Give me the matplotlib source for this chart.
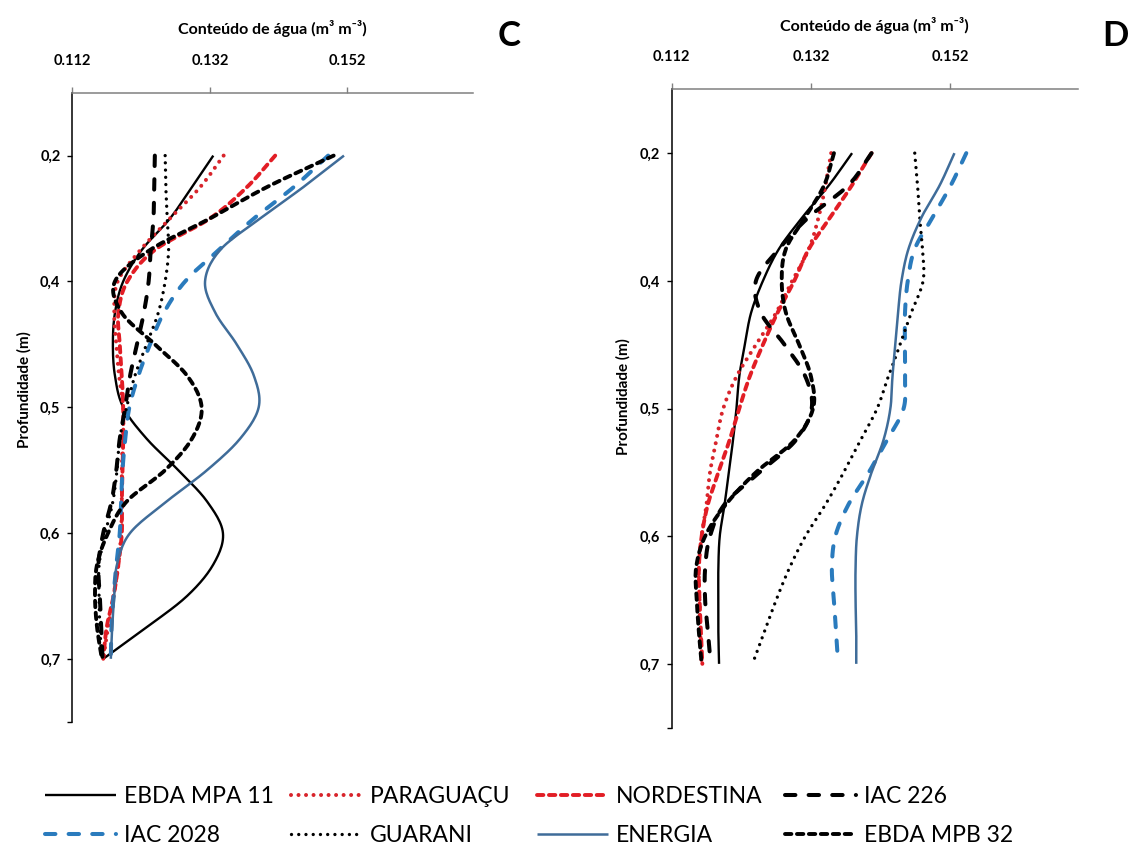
import numpy as np
import matplotlib
matplotlib.use("Agg")
import matplotlib.pyplot as plt

plt.rcParams['font.family'] = ['Lato', 'DejaVu Sans']
plt.rcParams['lines.scale_dashes'] = False

# ---------------- data ----------------
depth_labels = ['0,2', '0,4', '0,5', '0,6', '0,7']
# positions (in depth-label index units) at which the curves were read
read_levels = [0.0, 0.25, 0.5, 0.75, 1.0, 1.25, 1.5, 1.75, 2.0,
               2.25, 2.5, 2.75, 3.0, 3.25, 3.5, 3.75, 4.0]

series_names = ['EBDA MPA 11', 'PARAGUAÇU', 'NORDESTINA', 'IAC 226',
                'IAC 2028', 'GUARANI', 'ENERGIA', 'EBDA MPB 32']

x_ticks = [0.112, 0.132, 0.152]
x_tick_labels = ['0.112', '0.132', '0.152']

# Panel C
c_ebda_mpa11 = [0.1325, 0.1294, 0.1262, 0.1221, 0.1194, 0.1182, 0.1179, 0.1182, 0.1194,
                0.1228, 0.1274, 0.1316, 0.1339, 0.1325, 0.1287, 0.1228, 0.1165]
c_paraguacu = [0.1340, 0.1306, 0.1262, 0.1219, 0.1186, 0.1181, 0.1184, 0.1188, 0.1194,
               0.1193, 0.1192, 0.1192, 0.1191, 0.1187, 0.1180, 0.1172, 0.1165]
c_nordestina = [0.1415, 0.1374, 0.1320, 0.1240, 0.1200, 0.1187, 0.1189, 0.1192, 0.1194,
                0.1194, 0.1193, 0.1192, 0.1192, 0.1187, 0.1180, 0.1170, 0.1165]
c_iac226 = [0.1240, 0.1239, 0.1238, 0.1234, 0.1231, 0.1224, 0.1214, 0.1204, 0.1197,
            0.1189, 0.1184, 0.1177, 0.1165, 0.1158, 0.1160, 0.1162, 0.1164]
c_iac2028 = [0.1492, 0.1442, 0.1384, 0.1333, 0.1284, 0.1253, 0.1233, 0.1216, 0.1203,
             0.1197, 0.1193, 0.1191, 0.1189, 0.1184, 0.1180, 0.1177, 0.1176]
c_guarani = [0.1255, 0.1256, 0.1258, 0.1260, 0.1255, 0.1245, 0.1228, 0.1211, 0.1199,
             0.1189, 0.1185, 0.1179, 0.1168, 0.1159, 0.1159, 0.1160, 0.1163]
c_energia = [0.1515, 0.1456, 0.1393, 0.1335, 0.1313, 0.1328, 0.1359, 0.1384, 0.1391,
             0.1364, 0.1316, 0.1257, 0.1204, 0.1185, 0.1181, 0.1178, 0.1176]
c_ebda_mpb32 = [0.1500, 0.1403, 0.1320, 0.1233, 0.1182, 0.1192, 0.1240, 0.1287, 0.1308,
                0.1294, 0.1255, 0.1199, 0.1172, 0.1156, 0.1153, 0.1156, 0.1163]

# Panel D
d_ebda_mpa11 = [0.1379, 0.1346, 0.1308, 0.1274, 0.1251, 0.1234, 0.1225, 0.1217, 0.1213,
                0.1208, 0.1202, 0.1196, 0.1189, 0.1187, 0.1187, 0.1187, 0.1188]
d_paraguacu = [0.1349, 0.1341, 0.1331, 0.1317, 0.1293, 0.1270, 0.1241, 0.1213, 0.1194,
               0.1184, 0.1175, 0.1170, 0.1163, 0.1159, 0.1160, 0.1161, 0.1163]
d_nordestina = [0.1407, 0.1379, 0.1348, 0.1317, 0.1296, 0.1272, 0.1251, 0.1232, 0.1217,
                0.1203, 0.1187, 0.1172, 0.1163, 0.1159, 0.1160, 0.1162, 0.1164]
d_iac226 = [0.1407, 0.1374, 0.1317, 0.1274, 0.1241, 0.1248, 0.1282, 0.1312, 0.1321,
            0.1298, 0.1246, 0.1196, 0.1175, 0.1168, 0.1168, 0.1172, 0.1176]
d_iac2028 = [0.1543, 0.1521, 0.1495, 0.1469, 0.1459, 0.1455, 0.1455, 0.1455, 0.1453,
             0.1429, 0.1403, 0.1374, 0.1355, 0.1350, 0.1353, 0.1356, 0.1359]
d_guarani = [0.1469, 0.1473, 0.1476, 0.1480, 0.1481, 0.1464, 0.1448, 0.1431, 0.1415,
             0.1391, 0.1367, 0.1341, 0.1312, 0.1289, 0.1270, 0.1253, 0.1236]
d_energia = [0.1526, 0.1505, 0.1479, 0.1460, 0.1450, 0.1445, 0.1441, 0.1437, 0.1434,
             0.1424, 0.1407, 0.1393, 0.1386, 0.1384, 0.1384, 0.1385, 0.1385]
d_ebda_mpb32 = [0.1353, 0.1339, 0.1312, 0.1284, 0.1278, 0.1284, 0.1303, 0.1320, 0.1323,
                0.1296, 0.1241, 0.1198, 0.1168, 0.1155, 0.1156, 0.1159, 0.1163]

panel_c = [c_ebda_mpa11, c_paraguacu, c_nordestina, c_iac226,
           c_iac2028, c_guarani, c_energia, c_ebda_mpb32]
panel_d = [d_ebda_mpa11, d_paraguacu, d_nordestina, d_iac226,
           d_iac2028, d_guarani, d_energia, d_ebda_mpb32]

# ---------------- styles ----------------
RED = '#e21d25'
BLUE = '#2a7bbd'
STEEL = '#3f6c99'
styles = [
    dict(color='black', lw=1.7, ls='-'),
    dict(color='#d8242b', lw=2.9, dashes=(0.01, 5.4), dash_capstyle='round'),
    dict(color=RED, lw=2.8, dashes=(4.6, 4.0), dash_capstyle='round'),
    dict(color='black', lw=2.9, dashes=(7.5, 9.5), dash_capstyle='round'),
    dict(color=BLUE, lw=2.9, dashes=(7.5, 9.5), dash_capstyle='round'),
    dict(color='black', lw=2.4, dashes=(0.01, 5.2), dash_capstyle='round'),
    dict(color=STEEL, lw=1.8, ls='-'),
    dict(color='black', lw=2.8, dashes=(4.6, 4.0), dash_capstyle='round'),
]


def smooth(xv, yv, n=14):
    """Catmull-Rom rendering of a curve through the read points (smoothed line)."""
    P = np.column_stack([np.asarray(xv, float), np.asarray(yv, float)])
    E = np.vstack([2 * P[0] - P[1], P, 2 * P[-1] - P[-2]])
    t = np.linspace(0, 1, n, endpoint=False)[:, None]
    out = []
    for i in range(1, len(E) - 2):
        p0, p1, p2, p3 = E[i - 1], E[i], E[i + 1], E[i + 2]
        seg = 0.5 * (2 * p1 + (-p0 + p2) * t + (2 * p0 - 5 * p1 + 4 * p2 - p3) * t ** 2
                     + (-p0 + 3 * p1 - 3 * p2 + p3) * t ** 3)
        out.append(seg)
    out.append(P[-1:])
    S = np.vstack(out)
    return S[:, 0], S[:, 1]


W, H = 1131, 855
fig = plt.figure(figsize=(W / 100, H / 100), dpi=100)
axC = fig.add_axes([72.3 / W, 1 - 721.7 / H, (473.3 - 72.3) / W, (721.7 - 92.7) / H])
axD = fig.add_axes([671.7 / W, 1 - 727.7 / H, (1077.7 - 671.7) / W, (727.7 - 89.3) / H])

handles = []
for ax, panel in ((axC, panel_c), (axD, panel_d)):
    for k, (name, vals) in enumerate(zip(series_names, panel)):
        xs, ys = smooth(vals, read_levels)
        ln, = ax.plot(xs, ys, label=name, solid_capstyle='butt', **styles[k])
        if ax is axC:
            handles.append(ln)

    ax.set_xlim(0.112, 0.1703)
    ax.set_ylim(4.5, -0.5)
    ax.xaxis.tick_top()
    ax.set_xticks(x_ticks)
    ax.set_xticklabels(x_tick_labels, fontsize=10.5, fontweight='bold')
    ax.set_yticks([0, 1, 2, 3, 4, 4.5])
    ax.set_yticklabels(depth_labels + [''], fontsize=10.5, fontweight='bold')
    ax.tick_params(axis='x', direction='out', length=4, width=1.0, color='#808080', pad=14)
    ax.tick_params(axis='y', direction='out', length=3.5, width=1.0, color='black', pad=5)
    ax.spines['right'].set_visible(False)
    ax.spines['bottom'].set_visible(False)
    ax.spines['top'].set_color('#808080')
    ax.spines['top'].set_linewidth(1.1)
    ax.spines['left'].set_color('black')
    ax.spines['left'].set_linewidth(1.1)
    ax.set_facecolor('white')

title = 'Conteúdo de água (m³ m⁻³)'
fig.text(272.7 / W, 1 - 28.5 / H, title, ha='center', va='center',
         fontsize=11.5, fontweight='bold')
fig.text(874 / W, 1 - 25 / H, title, ha='center', va='center',
         fontsize=11.5, fontweight='bold')
fig.text(509 / W, 1 - 36 / H, 'C', ha='center', va='center', fontsize=25, fontweight='bold')
fig.text(1115 / W, 1 - 36 / H, 'D', ha='center', va='center', fontsize=25, fontweight='bold')
fig.text(24 / W, 1 - 390 / H, 'Profundidade (m)', rotation=90, ha='center', va='center',
         fontsize=11, fontweight='bold')
fig.text(623 / W, 1 - 397 / H, 'Profundidade (m)', rotation=90, ha='center', va='center',
         fontsize=11, fontweight='bold')

# legend: four columns, two rows
col_x = [45, 291, 537, 785]
for j in range(4):
    fig.legend([handles[j], handles[j + 4]], [series_names[j], series_names[j + 4]],
               loc='center left', bbox_to_anchor=(col_x[j] / W, 1 - 816 / H),
               frameon=False, fontsize=16.5, handlelength=3.1, handletextpad=0.35,
               labelspacing=0.75, borderpad=0, borderaxespad=0)

fig.savefig('out.png', dpi=100, facecolor='white')
